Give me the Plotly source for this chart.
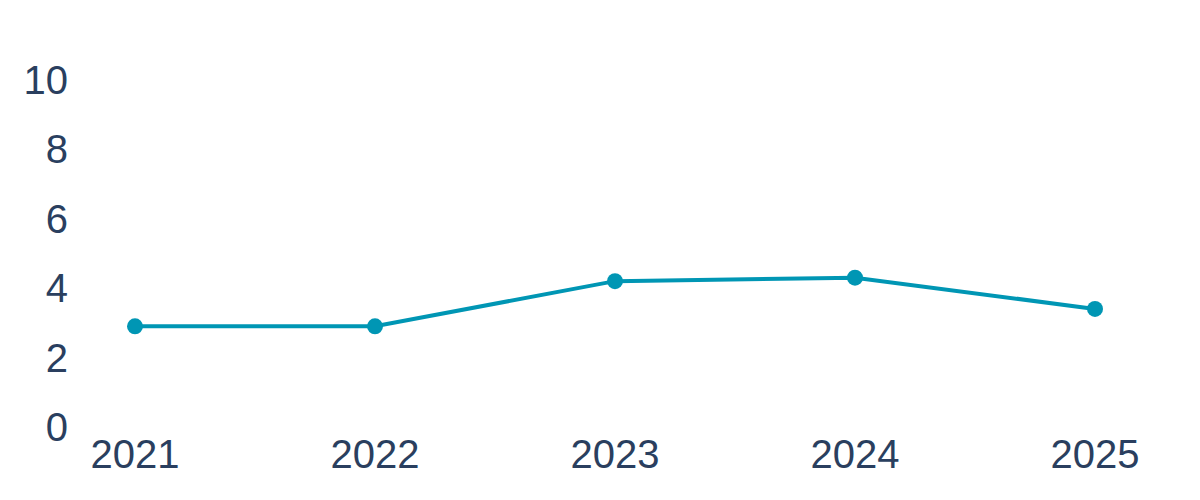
import plotly.graph_objects as go

years = [2021, 2022, 2023, 2024, 2025]
values = [2.9, 2.9, 4.2, 4.3, 3.4]
y_ticks = [0, 2, 4, 6, 8, 10]

fig = go.Figure(
    go.Scatter(
        x=years,
        y=values,
        mode="lines+markers",
        line=dict(color="#0096b4", width=4),
        marker=dict(color="#0096b4", size=16),
        showlegend=False,
    )
)

fig.update_layout(
    width=1200,
    height=500,
    margin=dict(l=67, r=53, t=37, b=81),
    paper_bgcolor="white",
    plot_bgcolor="white",
    font=dict(family="Liberation Sans, Arial, sans-serif", size=40, color="#2a3f5f"),
)
fig.update_xaxes(
    range=[2020.75, 2025.25],
    tickvals=years,
    ticktext=[str(y) for y in years],
    showgrid=False,
    zeroline=False,
    showline=False,
    automargin=False,
)
fig.update_yaxes(
    range=[0, 11],
    tickvals=y_ticks,
    showgrid=False,
    zeroline=False,
    showline=False,
    automargin=False,
    ticklabelstandoff=6,
)

fig.write_html("out.html")
